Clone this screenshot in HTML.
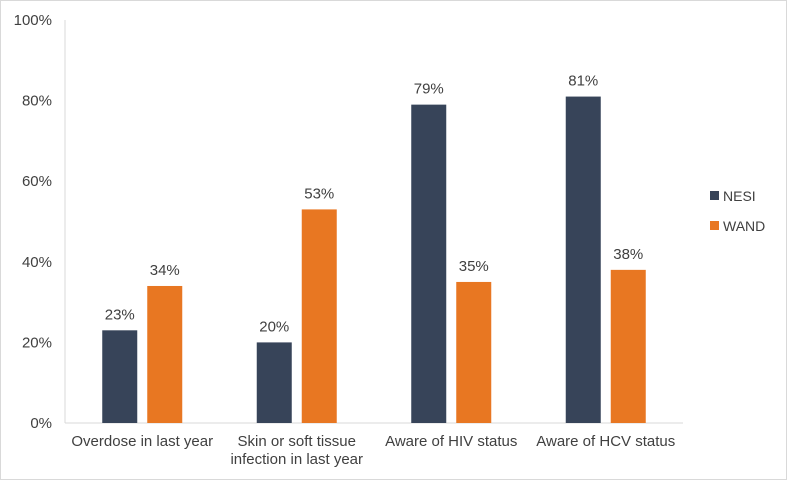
<!DOCTYPE html>
<html><head><meta charset="utf-8"><style>
body{margin:0;background:#fff;}
svg{display:block;font-family:"Liberation Sans",Arial,sans-serif;}
</style></head><body>
<svg id="chart" width="787" height="480">
<rect x="0.5" y="0.5" width="786" height="479" fill="#fff" stroke="#d9d9d9"/>
<g id="plot"></g>
</svg>
<script>
const categories=[["Overdose in last year"],["Skin or soft tissue","infection in last year"],["Aware of HIV status"],["Aware of HCV status"]];
const nesi=[23,20,79,81];
const wand=[34,53,35,38];
const ticks=[0,20,40,60,80,100];
const seriesNames=["NESI","WAND"];
const colors=["#374459","#e87722"];
const NS="http://www.w3.org/2000/svg";
const g=document.getElementById('plot');
const x0=65,x1=683,y0=423,yTop=20;
const y=v=>y0-(v/100)*(y0-yTop);
const band=(x1-x0)/categories.length;
function mk(t,a,txt){const e=document.createElementNS(NS,t);for(const k in a)e.setAttribute(k,a[k]);if(txt!==undefined)e.textContent=txt;g.appendChild(e);return e;}
ticks.forEach(t=>{
 const e=mk('text',{x:52,y:y(t)+5,'text-anchor':'end','font-size':15,fill:'#404040'},t+'%');
 
 
});
const ax=mk('line',{x1:x0,y1:yTop,x2:x0,y2:y0,stroke:'#d9d9d9'});


const bx=mk('line',{x1:x0,y1:y0,x2:x1,y2:y0,stroke:'#d9d9d9'});


const bw=35,gap=10;
[nesi,wand].forEach((arr,s)=>{
 arr.forEach((v,i)=>{
  const c=x0+band*(i+0.5);
  const bxp=s===0?c-gap/2-bw:c+gap/2;
  const r=mk('rect',{x:bxp,y:y(v),width:bw,height:y0-y(v),fill:colors[s]});
  
  
  const l=mk('text',{x:bxp+bw/2,y:y(v)-11,'text-anchor':'middle','font-size':15,fill:'#404040'},v+'%');
  
  
 });
});
categories.forEach((lines,i)=>{
 const c=x0+band*(i+0.5);
 lines.forEach((ln,j)=>{
  const t=mk('text',{x:c,y:446+j*18,'text-anchor':'middle','font-size':15,fill:'#404040'},ln);
  
  
 });
});
seriesNames.forEach((n,s)=>{
 const yy=196+s*30;
 const r=mk('rect',{x:710,y:yy-5,width:9,height:9,fill:colors[s]});
 
 
 const t=mk('text',{x:723,y:yy+5,'font-size':14,fill:'#404040'},n);
 
 
});
</script>
</body></html>
